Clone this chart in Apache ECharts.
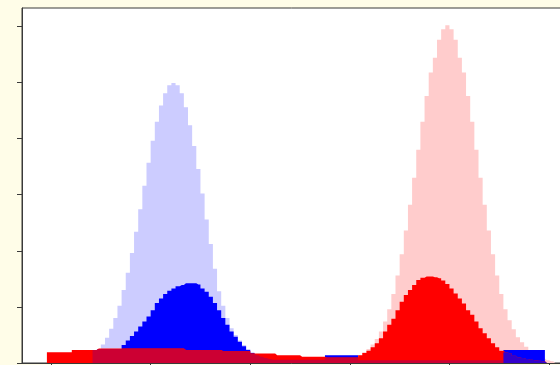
<!DOCTYPE html>
<html>
<head>
<meta charset="utf-8">
<script src="https://cdn.jsdelivr.net/npm/echarts@6/dist/echarts.min.js"></script>
<style>
  html, body { margin: 0; padding: 0; background: #fffde8; }
  #chart { width: 560px; height: 365px; }
</style>
</head>
<body>
<div id="chart"></div>
<script>
// Histogram bins (135 equal-width bins), counts per bin for each group.
const binCount = 135;
const bins = Array.from({ length: binCount }, (_, i) => i + 1);

// y-axis tick positions
const yTicks = [0, 10, 20, 30, 40, 50, 60];
// x-axis ticks sit on these bin boundaries
const xTickBins = [7, 31, 55, 79, 103, 127];

// Group A, all samples
const lightBlue = [
  0,0,0,0,0,0,0,0,0,0,
  0,0,0,0.3,0.5,0.8,1.2,1.7,2.4,3.3,
  4.5,6.1,8.0,10.2,13.0,16.1,19.6,23.4,27.4,31.6,
  35.7,39.6,43.0,45.9,48.1,49.5,49.9,49.5,48.1,45.6,
  42.4,38.7,34.6,30.2,25.6,21.2,16.8,12.8,10.2,8.0,
  6.2,5.0,4.0,3.2,2.5,1.9,1.4,1.0,0.7,0.4,
  0.2,0,0,0,0,0,0,0,0,0,
  0,0,0,0,0,0,0,0,0,0,
  0,0,0,0,0,0,0,0,0,0,
  0,0,0,0,0,0,0,0,0,0,
  0,0,0,0,0,0,0,0,0,0,
  0,0,0,0,0,0,0,0,0,0,
  0,0,0,0,0,0,0,0,0,0,
  0,0,0,0,0
];

// Group B, all samples
const lightRed = [
  0,0,0,0,0,0,0,0,0,0,
  0,0,0,0,0,0,0,0,0,0,
  0,0,0,0,0,0,0,0,0,0,
  0,0,0,0,0,0,0,0,0,0,
  0,0,0,0,0,0,0,0,0,0,
  0,0,0,0,0,0,0,0,0,0,
  0,0,0,0,0,0,0,0,0,0,
  0,0,0,0,0,0,0,0,0.4,0.7,
  1.0,1.4,1.9,2.5,3.3,4.3,5.6,7.4,9.6,12.3,
  15.6,19.4,23.6,28.2,33.0,38.0,43.0,47.6,51.8,54.4,
  57.6,59.5,60.2,59.5,57.6,54.4,51.8,47.6,43.0,38.0,
  33.0,28.2,23.6,19.4,15.6,12.3,9.6,7.6,6.0,4.6,
  3.7,2.9,2.3,1.7,1.2,0.8,0.5,0.3,0,0,
  0,0,0,0,0
];

// Group A, selected samples
const blue = [
  0,0,0,0,0,0,0,0,0,0,
  0,0,0,0,0,0,0,2.3,2.5,2.5,
  2.5,2.5,2.5,2.5,3.2,4.0,4.8,5.6,6.5,7.4,
  8.3,9.4,10.7,11.5,12.3,12.9,13.3,13.7,13.9,14.2,
  14.2,14.2,14.0,13.3,12.7,11.8,10.7,9.4,8.0,6.8,
  5.6,4.7,3.8,3.0,2.3,1.8,1.4,1.1,0.9,0.7,
  0.6,0.6,0.6,0.6,0.6,0.6,0.6,0.6,0.6,0.6,
  0.6,0.6,0.6,1.4,1.4,1.4,1.4,1.4,1.4,1.4,
  1.4,0.5,0.5,0.5,0.5,0.5,0.5,0.5,0.5,0.5,
  0.5,0.5,0.5,0.5,0.5,0.5,0.5,0.5,0.5,0.5,
  0.5,0.5,0.5,0.5,0.5,0.5,0.5,0.5,0.5,0.5,
  0.5,0.5,0.5,0.5,0.5,0.5,2.3,2.3,2.3,2.3,
  2.3,2.3,2.3,2.3,2.3,2.3,0,0,0,0,
  0,0,0,0,0
];

// Group B, selected samples
const red = [
  0,0,0,0,0,0,1.9,1.9,1.9,1.9,
  1.9,1.9,2.3,2.3,2.3,2.3,2.3,2.3,2.6,2.6,
  2.6,2.6,2.6,2.6,2.6,2.6,2.6,2.6,2.6,2.6,
  2.6,2.6,2.6,2.6,2.6,2.6,2.6,2.6,2.6,2.3,
  2.3,2.3,2.3,2.3,2.3,2.3,2.3,2.3,2.1,2.1,
  2.1,2.1,2.1,2.1,2.1,1.7,1.7,1.7,1.7,1.7,
  1.7,1.4,1.4,1.4,1.4,1.4,1.4,1.1,1.1,1.1,
  1.1,1.1,1.1,1.0,1.0,1.0,1.0,1.0,1.0,1.0,
  1.0,1.4,1.8,2.2,2.8,3.5,4.4,5.6,6.8,7.9,
  9.4,10.9,12.1,13.0,13.9,14.8,15.2,15.4,15.4,15.3,
  15.1,14.7,14.1,13.3,12.4,11.5,10.6,9.4,8.6,7.4,
  6.2,5.3,4.4,3.5,2.8,2.2,1.9,1.7,1.3,1.0,
  0.9,0.7,0.6,0.5,0.4,0.3,0,0,0,0,
  0,0,0,0,0
];

// Where both selected groups fall in a bin, the shared part is shaded apart.
const splitBin = 116;
const sharedLeft = blue.map((b, i) => (i < splitBin ? Math.min(b, red[i]) : 0));
const sharedRight = blue.map((b, i) => (i >= splitBin ? Math.min(b, red[i]) : 0));

function stepArea(name, data, color) {
  return {
    name: name,
    type: 'line',
    data: data,
    step: 'middle',
    symbol: 'none',
    showSymbol: false,
    lineStyle: { width: 0, opacity: 0 },
    areaStyle: { color: color, opacity: 1 },
    silent: true,
    animation: false
  };
}

const binWidth = 4.15;
const chart = echarts.init(document.getElementById('chart'), null, { renderer: 'canvas' });
chart.setOption({
  backgroundColor: '#fffde8',
  animation: false,
  grid: {
    left: 22,
    top: 8,
    width: binCount * binWidth,
    height: 355,
    containLabel: false,
    outerBoundsMode: 'none',
    show: true,
    backgroundColor: '#ffffff',
    borderColor: '#3a3a3a',
    borderWidth: 1
  },
  xAxis: {
    type: 'category',
    data: bins,
    boundaryGap: true,
    axisLine: { show: true, lineStyle: { color: '#3a3a3a', width: 1 } },
    axisTick: {
      show: true,
      length: 5,
      interval: (index) => xTickBins.indexOf(index) >= 0,
      lineStyle: { color: '#3a3a3a' }
    },
    axisLabel: { show: false },
    splitLine: { show: false }
  },
  yAxis: {
    type: 'value',
    min: 0,
    max: 63.28,
    interval: 10,
    axisLine: { show: true, lineStyle: { color: '#3a3a3a', width: 1 } },
    axisTick: { show: true, length: 5, customValues: yTicks, lineStyle: { color: '#3a3a3a' } },
    axisLabel: { show: false },
    splitLine: { show: false }
  },
  series: [
    stepArea('A all', lightBlue, '#ccccff'),
    stepArea('B all', lightRed, '#ffcccc'),
    stepArea('A selected', blue, '#0000ff'),
    stepArea('B selected', red, '#ff0000'),
    stepArea('shared (left)', sharedLeft, '#cc0033'),
    stepArea('shared (right)', sharedRight, '#3300cc')
  ]
});
</script>
</body>
</html>
